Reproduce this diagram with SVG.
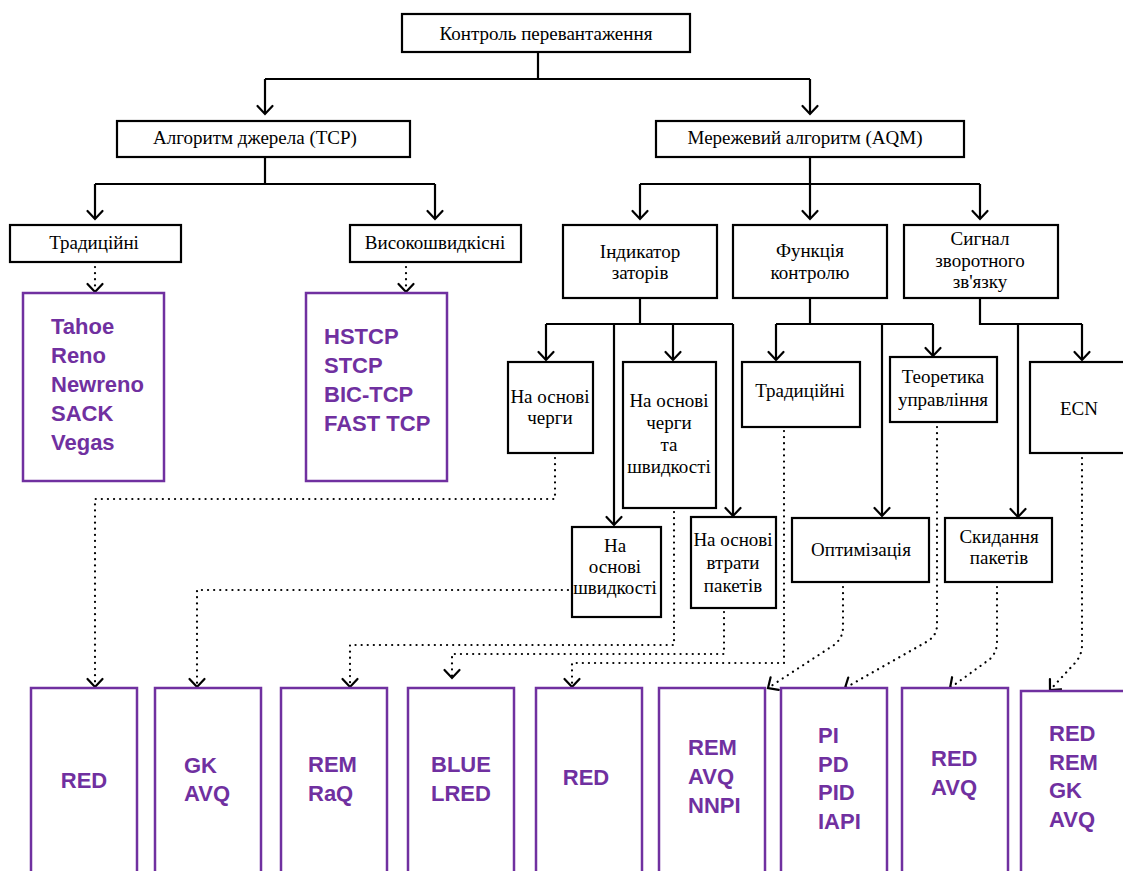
<svg xmlns="http://www.w3.org/2000/svg" width="1123" height="871" viewBox="0 0 1123 871">
<style>
.bx{fill:#fff;stroke:#000;stroke-width:2.2}
.pb{fill:#fff;stroke:#7030A0;stroke-width:2.5}
.t{font-family:"Liberation Serif","Times New Roman",serif;font-size:19px;fill:#000;text-anchor:middle}
.p{font-family:"Liberation Sans",Arial,sans-serif;font-size:22px;font-weight:bold;fill:#7030A0}
.pc{text-anchor:middle}
.s{fill:none;stroke:#000;stroke-width:2.2}
.d{fill:none;stroke:#000;stroke-width:2.2;stroke-dasharray:0.1 6;stroke-linecap:round}
</style>
<defs>
<marker id="a" markerUnits="userSpaceOnUse" markerWidth="20" markerHeight="20" viewBox="-10 -10 20 20" refX="0" refY="0" orient="auto" overflow="visible">
<path d="M-8,-7.5 L0,0 L-8,7.5" fill="none" stroke="#000" stroke-width="2.2" stroke-linecap="round"/>
</marker>
</defs>
<rect width="1123" height="871" fill="#fff"/>

<g id="connectors">
<path class="s" d="M538,52 V79 M265,79 H810"/>
<path class="s" d="M265,79 V114" marker-end="url(#a)"/>
<path class="s" d="M810,79 V114" marker-end="url(#a)"/>
<path class="s" d="M265,157 V184 M95,184 H435"/>
<path class="s" d="M95,184 V219" marker-end="url(#a)"/>
<path class="s" d="M435,184 V219" marker-end="url(#a)"/>
<path class="s" d="M810,157 V184 M640,184 H980"/>
<path class="s" d="M640,184 V219" marker-end="url(#a)"/>
<path class="s" d="M810,184 V219" marker-end="url(#a)"/>
<path class="s" d="M980,184 V219" marker-end="url(#a)"/>
<path class="s" d="M640,298 V324 M546,324 H733"/>
<path class="s" d="M546,324 V360" marker-end="url(#a)"/>
<path class="s" d="M673,324 V360" marker-end="url(#a)"/>
<path class="s" d="M614,324 V525" marker-end="url(#a)"/>
<path class="s" d="M733,324 V516" marker-end="url(#a)"/>
<path class="s" d="M810,298 V324 M776,324 H933"/>
<path class="s" d="M776,324 V360" marker-end="url(#a)"/>
<path class="s" d="M933,324 V356" marker-end="url(#a)"/>
<path class="s" d="M882,324 V516" marker-end="url(#a)"/>
<path class="s" d="M980,298 V324 H1082"/>
<path class="s" d="M1082,324 V360" marker-end="url(#a)"/>
<path class="s" d="M1018,324 V517" marker-end="url(#a)"/>

<path class="d" d="M95,267 V292" marker-end="url(#a)"/>
<path class="d" d="M406,267 V292" marker-end="url(#a)"/>
<path class="d" d="M555,458 V499 H95 V687" marker-end="url(#a)"/>
<path class="d" d="M568,590 H197 V687" marker-end="url(#a)"/>
<path class="d" d="M674,512 V645 H350 V687" marker-end="url(#a)"/>
<path class="d" d="M724,612 V654 H452 V678" marker-end="url(#a)"/>
<path class="d" d="M784,431 V663 H572 V687" marker-end="url(#a)"/>
<path class="d" d="M843,587 V627 Q843,638 834,645 L768,688" marker-end="url(#a)"/>
<path class="d" d="M937,427 V625 Q937,635 928,641 L845,688" marker-end="url(#a)"/>
<path class="d" d="M997,587 V642 Q997,652 990,659 L950,688" marker-end="url(#a)"/>
<path class="d" d="M1082,458 V645 Q1082,655 1075,663 L1050,690" marker-end="url(#a)"/>
</g>

<g id="n-root"><rect class="bx" x="402" y="14" width="288" height="38"/><text class="t" x="546" y="40">Контроль перевантаження</text></g>
<g id="n-tcp"><rect class="bx" x="117" y="121" width="293" height="36"/><text class="t" x="255" y="144">Алгоритм джерела (TCP)</text></g>
<g id="n-aqm"><rect class="bx" x="656" y="121" width="308" height="36"/><text class="t" x="805" y="144">Мережевий алгоритм (AQM)</text></g>
<g id="n-trad"><rect class="bx" x="10" y="225" width="171" height="37"/><text class="t" x="94" y="249">Традиційні</text></g>
<g id="n-high"><rect class="bx" x="350" y="225" width="171" height="37"/><text class="t" x="435" y="249">Високошвидкісні</text></g>
<g id="n-ind"><rect class="bx" x="563" y="225" width="154" height="73"/><text class="t" x="640" y="258">Індикатор</text><text class="t" x="640" y="279">заторів</text></g>
<g id="n-func"><rect class="bx" x="733" y="225" width="154" height="73"/><text class="t" x="810" y="257">Функція</text><text class="t" x="810" y="279">контролю</text></g>
<g id="n-sig"><rect class="bx" x="904" y="225" width="154" height="73"/><text class="t" x="980" y="245">Сигнал</text><text class="t" x="980" y="267">зворотного</text><text class="t" x="980" y="288">зв'язку</text></g>
<g id="n-queue"><rect class="bx" x="508" y="362" width="85" height="91"/><text class="t" x="550" y="403">На основі</text><text class="t" x="550" y="424">черги</text></g>
<g id="n-qspeed"><rect class="bx" x="623" y="362" width="93" height="146"/><text class="t" x="669" y="407">На основі</text><text class="t" x="669" y="429">черги</text><text class="t" x="669" y="451">та</text><text class="t" x="669" y="473">швидкості</text></g>
<g id="n-speed"><rect class="bx" x="572" y="527" width="89" height="90"/><text class="t" x="615" y="552">На</text><text class="t" x="615" y="573">основі</text><text class="t" x="615" y="594">швидкості</text></g>
<g id="n-loss"><rect class="bx" x="691" y="517" width="85" height="91"/><text class="t" x="733" y="546">На основі</text><text class="t" x="733" y="569">втрати</text><text class="t" x="733" y="592">пакетів</text></g>
<g id="n-trad2"><rect class="bx" x="742" y="362" width="118" height="65"/><text class="t" x="800" y="397">Традиційні</text></g>
<g id="n-theory"><rect class="bx" x="890" y="357" width="107" height="65"/><text class="t" x="943" y="383">Теоретика</text><text class="t" x="943" y="406">управління</text></g>
<g id="n-opt"><rect class="bx" x="792" y="518" width="137" height="64"/><text class="t" x="861" y="556">Оптимізація</text></g>
<g id="n-drop"><rect class="bx" x="945" y="518" width="107" height="64"/><text class="t" x="999" y="543">Скидання</text><text class="t" x="999" y="564">пакетів</text></g>
<g id="n-ecn"><rect class="bx" x="1030" y="362" width="100" height="91"/><text class="t" x="1079" y="415">ECN</text></g>

<g id="p-trad"><rect class="pb" x="23" y="293" width="141" height="188"/><text class="p" x="51" y="334">Tahoe</text><text class="p" x="51" y="363">Reno</text><text class="p" x="51" y="392">Newreno</text><text class="p" x="51" y="421">SACK</text><text class="p" x="51" y="450">Vegas</text></g>
<g id="p-high"><rect class="pb" x="306" y="293" width="141" height="188"/><text class="p" x="324" y="344">HSTCP</text><text class="p" x="324" y="373">STCP</text><text class="p" x="324" y="402">BIC-TCP</text><text class="p" x="324" y="431">FAST TCP</text></g>

<g id="b1"><rect class="pb" x="31" y="688" width="106" height="200"/><text class="p pc" x="84" y="788">RED</text></g>
<g id="b2"><rect class="pb" x="155" y="688" width="106" height="200"/><text class="p" x="184" y="773">GK</text><text class="p" x="184" y="801">AVQ</text></g>
<g id="b3"><rect class="pb" x="281" y="688" width="106" height="200"/><text class="p" x="308" y="772">REM</text><text class="p" x="308" y="801">RaQ</text></g>
<g id="b4"><rect class="pb" x="408" y="688" width="106" height="200"/><text class="p" x="431" y="772">BLUE</text><text class="p" x="431" y="801">LRED</text></g>
<g id="b5"><rect class="pb" x="536" y="688" width="106" height="200"/><text class="p pc" x="586" y="785">RED</text></g>
<g id="b6"><rect class="pb" x="659" y="688" width="106" height="200"/><text class="p" x="688" y="755">REM</text><text class="p" x="688" y="784">AVQ</text><text class="p" x="688" y="813">NNPI</text></g>
<g id="b7"><rect class="pb" x="781" y="688" width="106" height="200"/><text class="p" x="818" y="743">PI</text><text class="p" x="818" y="772">PD</text><text class="p" x="818" y="800">PID</text><text class="p" x="818" y="829">IAPI</text></g>
<g id="b8"><rect class="pb" x="902" y="688" width="106" height="200"/><text class="p" x="931" y="766">RED</text><text class="p" x="931" y="795">AVQ</text></g>
<g id="b9"><rect class="pb" x="1021" y="691" width="110" height="200"/><text class="p" x="1049" y="741">RED</text><text class="p" x="1049" y="770">REM</text><text class="p" x="1049" y="798">GK</text><text class="p" x="1049" y="827">AVQ</text></g>
</svg>
